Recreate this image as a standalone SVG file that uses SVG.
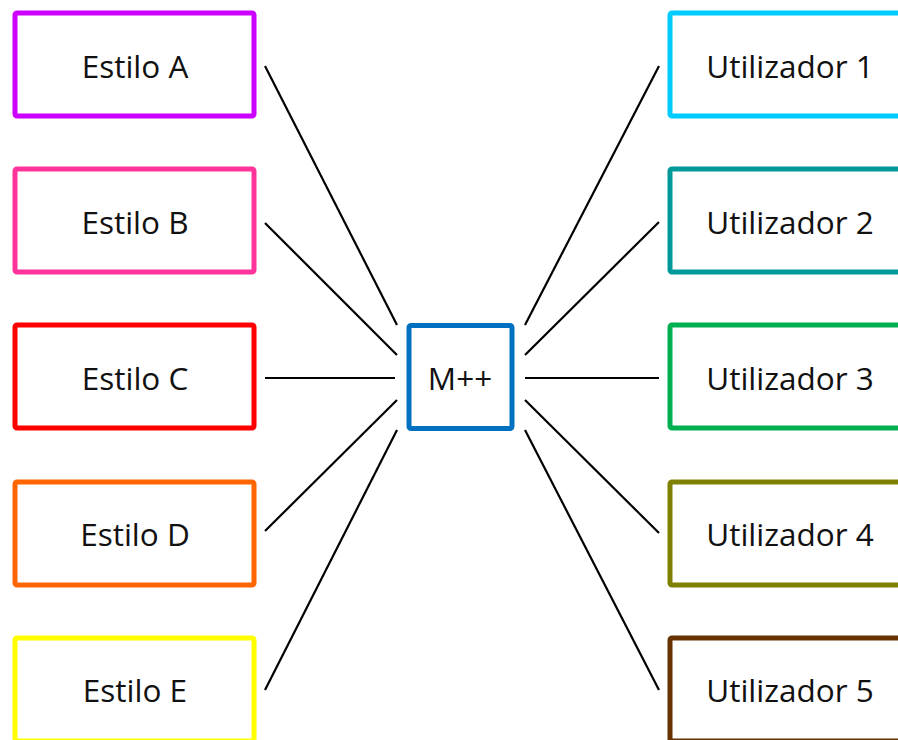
<svg xmlns="http://www.w3.org/2000/svg" width="898" height="740" viewBox="0 0 898 740">
<style>
.box{fill:#fff;stroke-width:5}
.lbl{font-family:"Open Sans","Liberation Sans",sans-serif;font-size:31.5px;fill:#111;text-anchor:middle}
.con line{stroke:#000;stroke-width:2.2}
</style>
<rect width="898" height="740" fill="#fff"/>
<g id="estilo-a"><rect class="box" x="15" y="13" width="239" height="103" rx="2" stroke="#CC00FF"/><text class="lbl" x="135" y="78">Estilo A</text></g>
<g id="estilo-b"><rect class="box" x="15" y="169" width="239" height="103" rx="2" stroke="#FF3399"/><text class="lbl" x="135" y="234">Estilo B</text></g>
<g id="estilo-c"><rect class="box" x="15" y="325" width="239" height="103" rx="2" stroke="#FF0000"/><text class="lbl" x="135" y="390">Estilo C</text></g>
<g id="estilo-d"><rect class="box" x="15" y="482" width="239" height="103" rx="2" stroke="#FF6600"/><text class="lbl" x="135" y="546">Estilo D</text></g>
<g id="estilo-e"><rect class="box" x="15" y="638" width="239" height="103" rx="2" stroke="#FFFF00"/><text class="lbl" x="135" y="702">Estilo E</text></g>
<g id="mpp"><rect class="box" x="409" y="325.5" width="103" height="103" rx="2" stroke="#0070C0"/><text class="lbl" x="460" y="390">M++</text></g>
<g id="util-1"><rect class="box" x="670" y="13" width="260" height="103" rx="2" stroke="#00CCFF"/><text class="lbl" x="790" y="78">Utilizador 1</text></g>
<g id="util-2"><rect class="box" x="670" y="169" width="260" height="103" rx="2" stroke="#009999"/><text class="lbl" x="790" y="234">Utilizador 2</text></g>
<g id="util-3"><rect class="box" x="670" y="325" width="260" height="103" rx="2" stroke="#00B050"/><text class="lbl" x="790" y="390">Utilizador 3</text></g>
<g id="util-4"><rect class="box" x="670" y="482" width="260" height="103" rx="2" stroke="#808000"/><text class="lbl" x="790" y="546">Utilizador 4</text></g>
<g id="util-5"><rect class="box" x="670" y="638" width="260" height="103" rx="2" stroke="#663300"/><text class="lbl" x="790" y="702">Utilizador 5</text></g>
<g id="connectors" class="con">
<line x1="265" y1="66" x2="397" y2="325"/>
<line x1="265" y1="223" x2="397" y2="355"/>
<line x1="265" y1="378" x2="395" y2="378"/>
<line x1="265" y1="531" x2="397" y2="400"/>
<line x1="265" y1="690" x2="397" y2="430"/>
<line x1="525" y1="325" x2="659" y2="66"/>
<line x1="525" y1="355" x2="659" y2="222"/>
<line x1="525" y1="378" x2="659" y2="378"/>
<line x1="525" y1="400" x2="659" y2="533"/>
<line x1="525" y1="430" x2="659" y2="690"/>
</g>
</svg>
